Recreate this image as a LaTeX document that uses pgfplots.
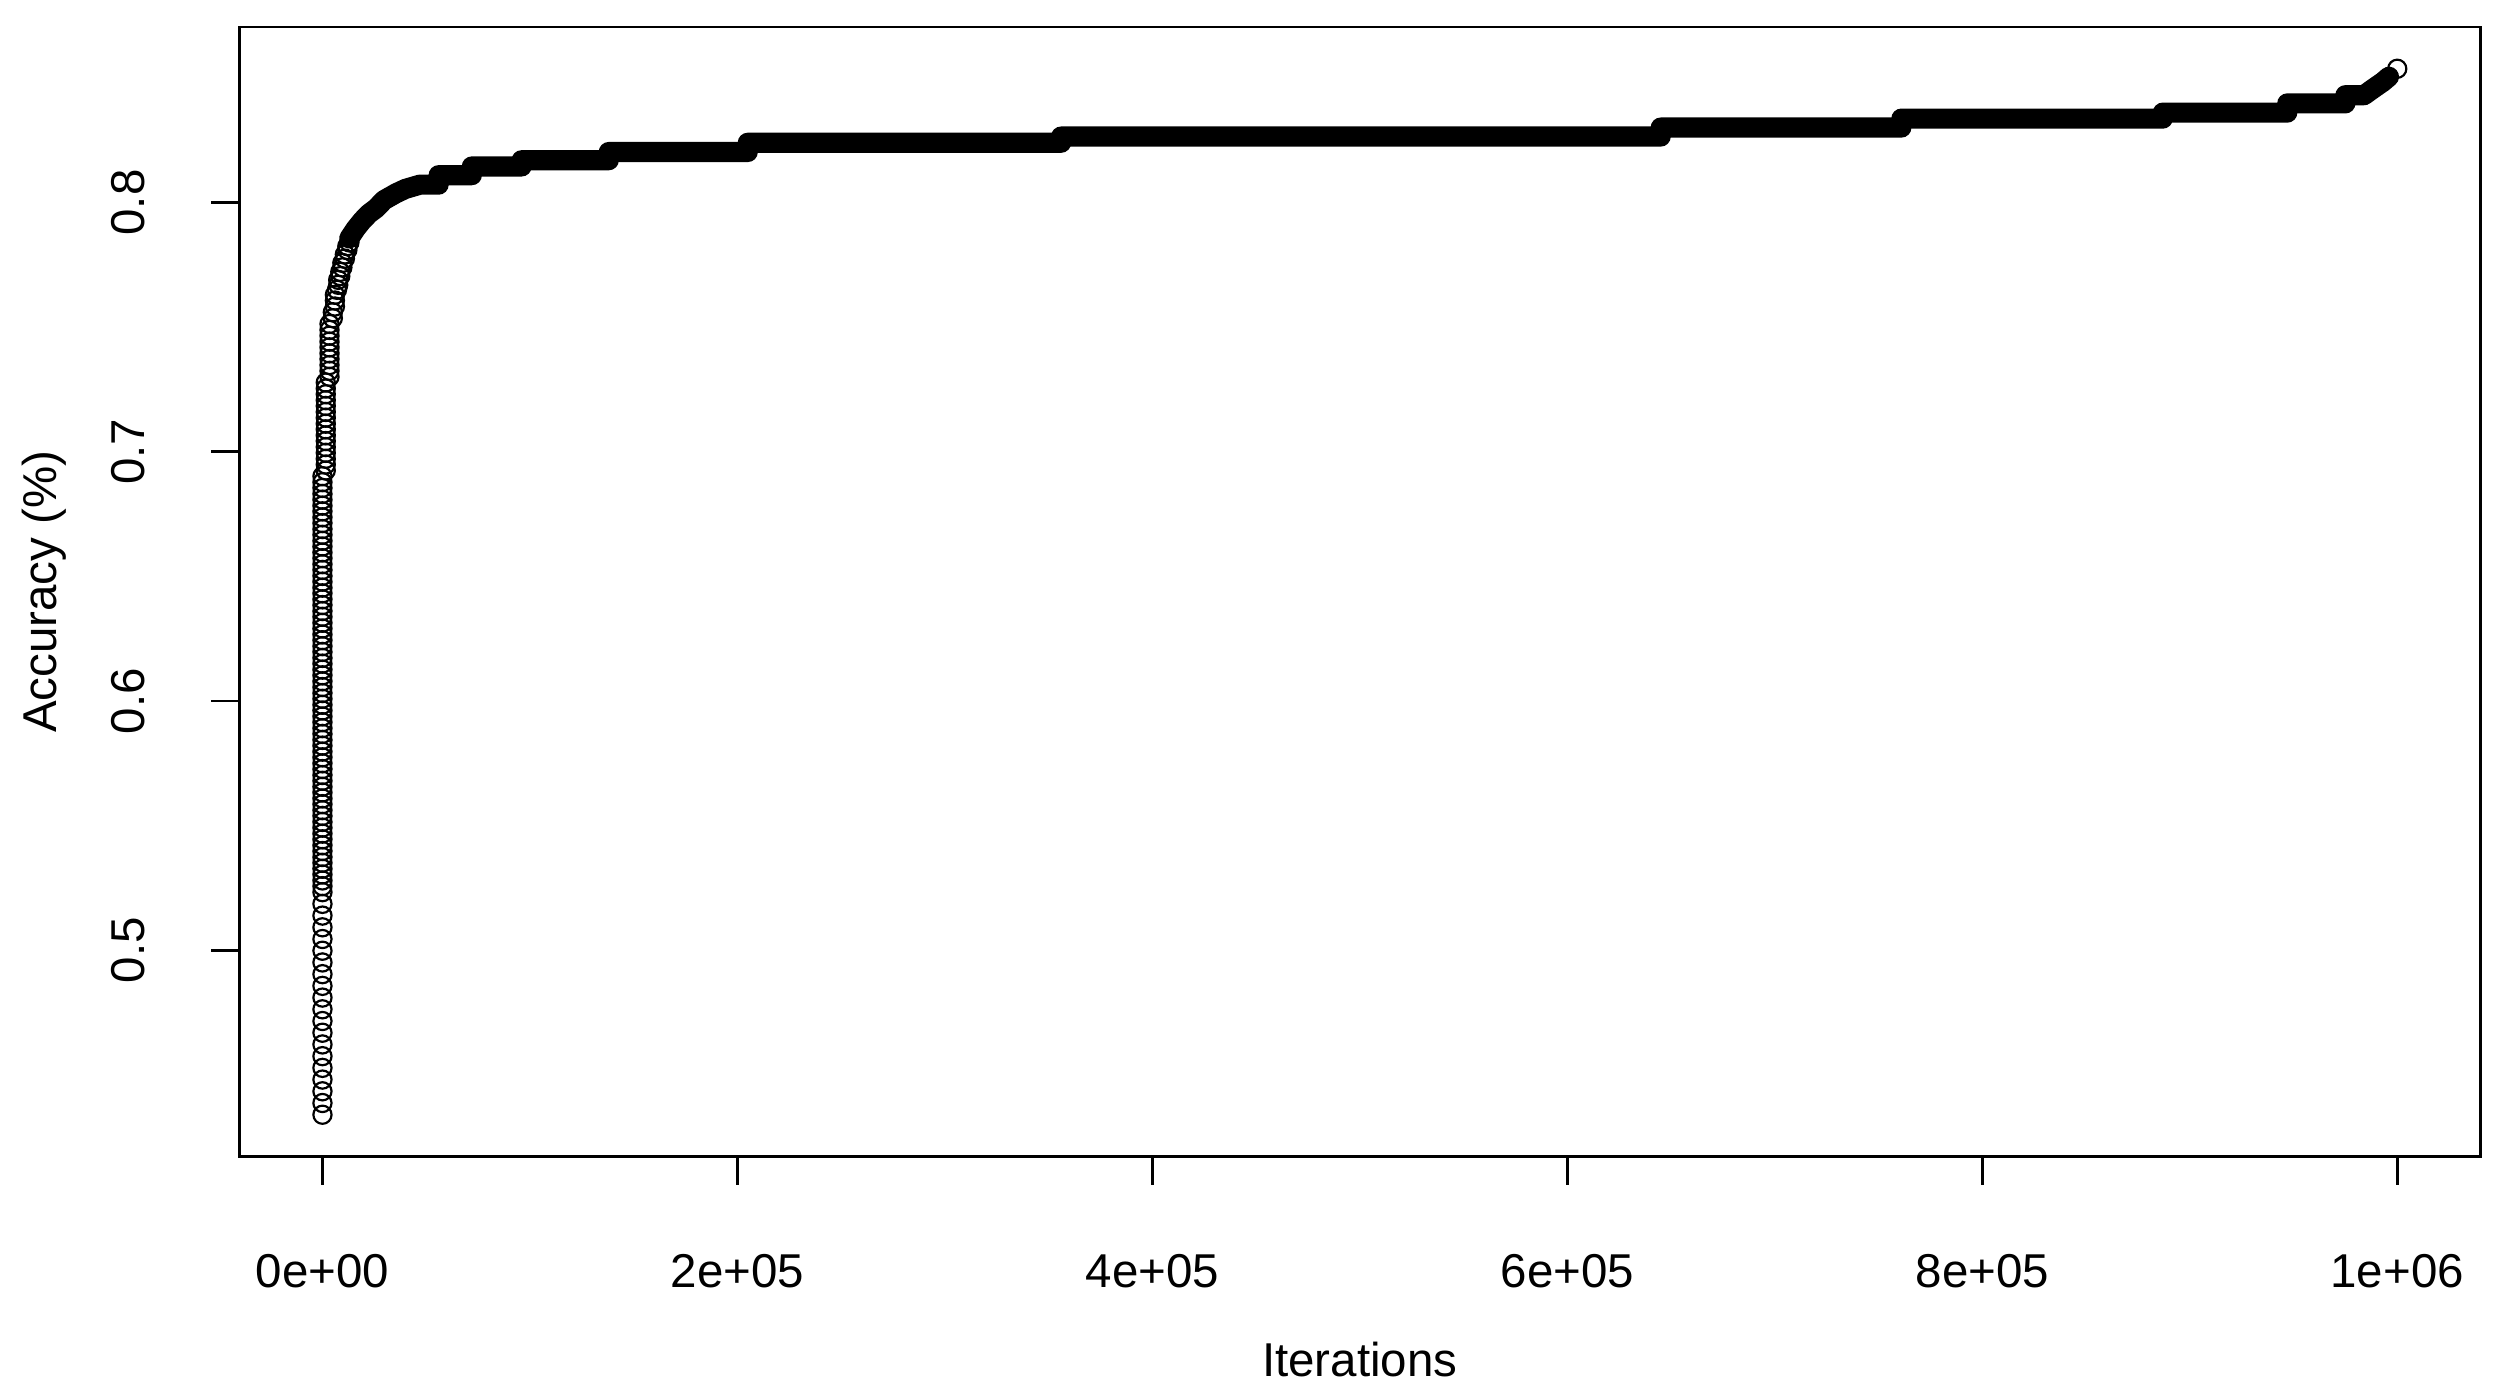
\documentclass[border=0pt]{standalone}
\usepackage{fontspec}
\setmainfont{Liberation Sans}
\usepackage{pgfplots}
\pgfplotsset{compat=1.18}

\begin{document}
\begin{tikzpicture}
\begin{axis}[
    name=ax, at={(0,0)}, anchor=south west,
    scale only axis, width=566.1pt, height=285.4pt,
    xmin=-40000, xmax=1040000, ymin=0.4172, ymax=0.8705,
    axis line style={line width=0.7pt},
    xtick={0,200000,400000,600000,800000,1000000},
    xticklabels={0e+00,2e+05,4e+05,6e+05,8e+05,1e+06},
    ytick={0.5,0.6,0.7,0.8},
    yticklabels={0.5,0.6,0.7,0.8},
    scaled x ticks=false, scaled y ticks=false,
    tick pos=left, tick align=outside,
    major tick length=7.1pt,
    tick style={line width=0.7pt, black},
    minor tick num=0,
    /pgf/number format/assume math mode=true,
    tick label style={font=\fontsize{12}{14}\selectfont},
    xticklabel style={anchor=base},
    xticklabel shift=26pt,
    yticklabel style={rotate=90, anchor=base},
    yticklabel shift=16.9pt,
    label style={font=\fontsize{12}{14}\selectfont},
    xlabel={Iterations},
    ylabel={Accuracy (\%)},
    xlabel style={at={([yshift=-55.6pt]axis description cs:0.5,0)}, anchor=base},
    ylabel style={at={([xshift=-46.1pt]axis description cs:0,0.5)}, anchor=base},
]
% early iterations: separate open circles
\addplot[only marks, mark=o, mark size=2.3pt, mark options={line width=0.55pt, black}] coordinates {
(0,0.434) (0,0.4387) (0,0.4434) (0,0.4481) (0,0.4528) (0,0.4575) (0,0.4622) (0,0.4669)
(0,0.4716) (0,0.4763) (0,0.481) (0,0.4857) (0,0.4904) (0,0.4951) (0,0.4998) (0,0.5045)
(0,0.5092) (0,0.5139) (0,0.5186)
(0,0.5233) (0,0.5257) (0,0.528) (0,0.5304) (0,0.5327) (0,0.5351) (0,0.5374) (0,0.5398)
(0,0.5421) (0,0.5445) (0,0.5468) (0,0.5492) (0,0.5515) (0,0.5539) (0,0.5562) (0,0.5586)
(0,0.5609) (0,0.5633) (0,0.5656) (0,0.568) (0,0.5703) (0,0.5727) (0,0.575) (0,0.5774)
(0,0.5797) (0,0.5821) (0,0.5844) (0,0.5868) (0,0.5891) (0,0.5915) (0,0.5938) (0,0.5962)
(0,0.5985) (0,0.6009) (0,0.6032) (0,0.6056) (0,0.6079) (0,0.6103) (0,0.6126) (0,0.615)
(0,0.6173) (0,0.6197) (0,0.622) (0,0.6244) (0,0.6267) (0,0.6291) (0,0.6314) (0,0.6338)
(0,0.6361) (0,0.6385) (0,0.6408) (0,0.6432) (0,0.6455) (0,0.6479) (0,0.6502) (0,0.6526)
(0,0.6549) (0,0.6573) (0,0.6596) (0,0.662) (0,0.6643) (0,0.6667) (0,0.669) (0,0.6714)
(0,0.6737) (0,0.6761) (0,0.6784) (0,0.6808) (0,0.6831) (0,0.6855) (0,0.6878) (0,0.6902)
(1600,0.6925) (1600,0.6949) (1600,0.6972) (1600,0.6996) (1600,0.7019) (1600,0.7043)
(1600,0.7066) (1600,0.709) (1600,0.7113) (1600,0.7137) (1600,0.716) (1600,0.7184)
(1600,0.7207) (1600,0.7231) (1600,0.7254) (1600,0.7278)
(3400,0.7301) (3400,0.7325) (3400,0.7348) (3400,0.7372) (3400,0.7395) (3400,0.7419)
(3400,0.7442) (3400,0.7466) (3400,0.7489) (3400,0.7513)
(5000,0.7536) (5000,0.756) (6000,0.7583) (6000,0.7607) (6000,0.763) (7000,0.765)
(7600,0.767) (7600,0.769) (8600,0.7705) (8600,0.7722) (9600,0.774) (9600,0.7758)
(10800,0.7775) (10800,0.7792) (12000,0.781) (12000,0.7825) (13000,0.784)
};
% later iterations: circles packed into a solid band
\addplot[black, line width=5.1pt, line join=round, line cap=round] coordinates {
(12900,0.7856) (16100,0.7896) (19300,0.7929) (22500,0.7956) (25700,0.7976)
(29700,0.8010) (35400,0.8037) (40000,0.8055) (47000,0.8072) (56000,0.8072)
(56000,0.8110) (72000,0.8110) (72000,0.8145) (96000,0.8145) (96000,0.8170)
(138000,0.8170) (138000,0.8203) (205000,0.8203) (205000,0.8240) (356000,0.8240)
(356000,0.8265) (645000,0.8265) (645000,0.8301) (761000,0.8301) (761000,0.8337)
(887000,0.8337) (887000,0.8361) (947000,0.8361) (947000,0.8398) (975000,0.8398)
(975000,0.8431) (984000,0.8431) (988000,0.8455) (993000,0.8484) (996000,0.8505)
};
\addplot[only marks, mark=o, mark size=2.3pt, mark options={line width=0.55pt, black}] coordinates {
(1000000,0.8537)
};
\end{axis}
\pgfresetboundingbox
\path (-60.5pt,-60.7pt) rectangle (572.1pt,292.2pt);
\end{tikzpicture}
\end{document}
